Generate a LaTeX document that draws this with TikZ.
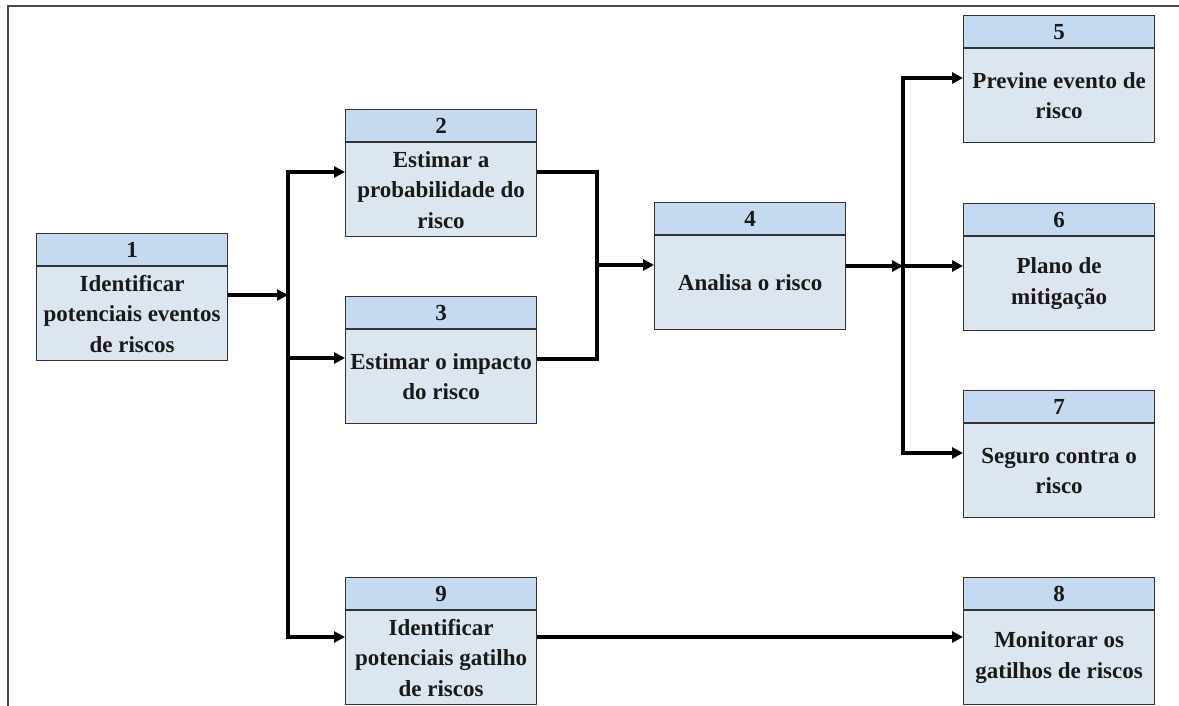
\documentclass[tikz,border=0pt]{standalone}
\usepackage{fontspec}
\setmainfont{Liberation Serif}
\usetikzlibrary{arrows.meta}
\definecolor{hdrc}{HTML}{C5D9F1}
\definecolor{bodyc}{HTML}{DCE6F1}
\definecolor{bordc}{HTML}{333333}
\definecolor{framec}{HTML}{4A4A4A}
\begin{document}
\begin{tikzpicture}[x=1pt,y=-1pt,
  boxfont/.style={font=\fontsize{23}{30.5}\selectfont\bfseries, text=black!90},
  hdr/.style={boxfont, draw=bordc, fill=hdrc, line width=1.2pt, inner sep=0pt,
    minimum width=191pt, minimum height=32pt, anchor=north west},
  bodybox/.style={boxfont, draw=bordc, fill=bodyc, line width=1.2pt, inner sep=0pt,
    minimum width=191pt, minimum height=94pt, anchor=north, align=center},
  conn/.style={line width=3.6pt, black, line join=miter},
  arr/.style={conn, -{Triangle[length=11pt,width=11pt]}},
  darr/.style={conn, {Triangle[length=11pt,width=11pt]}-{Triangle[length=11pt,width=11pt]}}
]
\useasboundingbox (0,0) rectangle (1179,706);
% outer frame (top and left edges)
\draw[framec, line width=2pt] (8,706) -- (8,6) -- (1179,6);

% boxes: numbered header on top of a text body
\node[hdr] (h1) at (36,233) {1};
\node[bodybox] (b1) at (h1.south) {Identificar\\potenciais eventos\\de riscos};
\node[hdr] (h2) at (345,109) {2};
\node[bodybox] (b2) at (h2.south) {Estimar a\\probabilidade do\\risco};
\node[hdr] (h3) at (345,296) {3};
\node[bodybox] (b3) at (h3.south) {Estimar o impacto\\do risco};
\node[hdr] (h4) at (654,202) {4};
\node[bodybox] (b4) at (h4.south) {Analisa o risco};
\node[hdr] (h5) at (963,15) {5};
\node[bodybox] (b5) at (h5.south) {Previne evento de\\risco};
\node[hdr] (h6) at (963,203) {6};
\node[bodybox] (b6) at (h6.south) {Plano de\\mitigação};
\node[hdr] (h7) at (963,390) {7};
\node[bodybox] (b7) at (h7.south) {Seguro contra o\\risco};
\node[hdr] (h8) at (963,577) {8};
\node[bodybox] (b8) at (h8.south) {Monitorar os\\gatilhos de riscos};
\node[hdr] (h9) at (345,577) {9};
\node[bodybox] (b9) at (h9.south) {Identificar\\potenciais gatilho\\de riscos};

% junction points of the three vertical buses
\coordinate (j1) at (288,295);
\coordinate (t1) at (288,172);
\coordinate (m1) at (288,358);
\coordinate (e1) at (288,637);
\coordinate (t2) at (597,172);
\coordinate (m2) at (597,265);
\coordinate (e2) at (597,359);
\coordinate (t3) at (903,78);
\coordinate (m3) at (903,266);
\coordinate (e3) at (903,453);

% first fan-out
\draw[arr] (b1.east |- j1) -- (j1);
\draw[darr] (b2.west |- t1) -- (t1) -- (e1) -- (b9.west |- e1);
\draw[arr] (m1) -- (b3.west |- m1);

% merge into analysis
\draw[conn] (b2.east |- t2) -- (t2) -- (e2) -- (b3.east |- e2);
\draw[arr] (m2) -- (b4.west |- m2);

% second fan-out
\draw[arr] (b4.east |- m3) -- (m3);
\draw[darr] (b5.west |- t3) -- (t3) -- (e3) -- (b7.west |- e3);
\draw[arr] (m3) -- (b6.west |- m3);

% trigger monitoring
\draw[arr] (b9.east |- e1) -- (b8.west |- e1);
\end{tikzpicture}
\end{document}
